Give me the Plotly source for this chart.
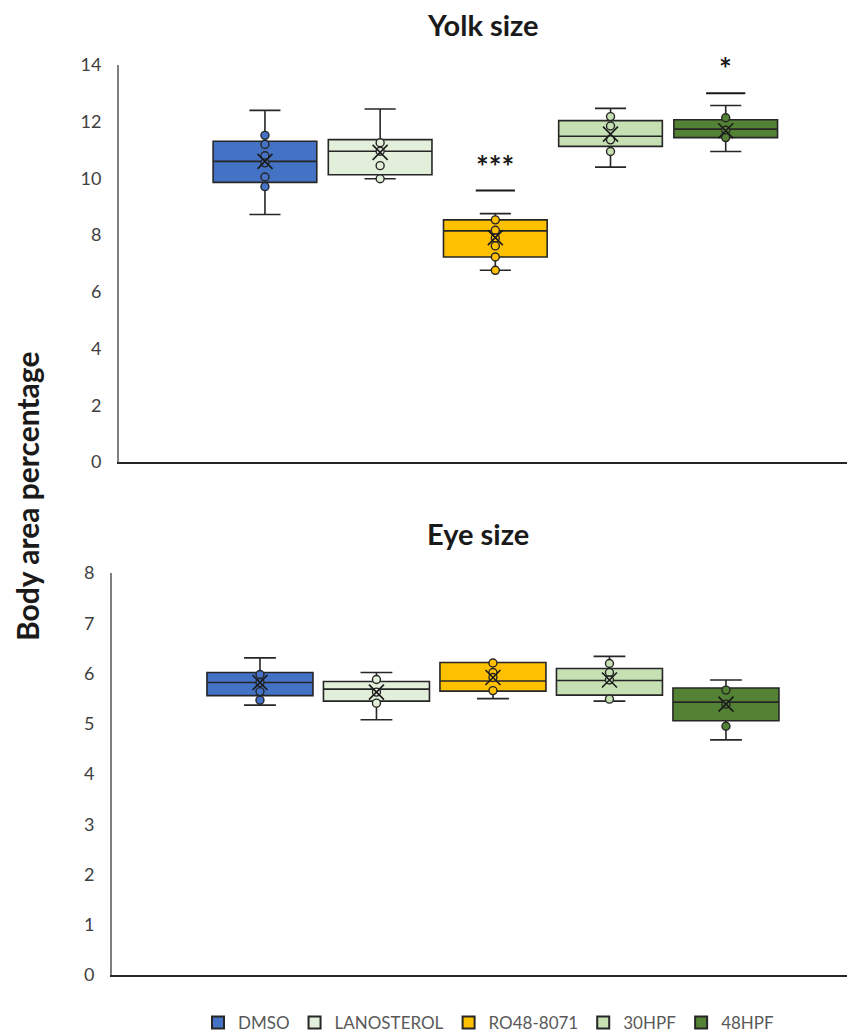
import plotly.graph_objects as go

# Treatment groups and their fill colours
groups = ["DMSO", "LANOSTEROL", "RO48-8071", "30HPF", "48HPF"]
fill_colors = ["#4472C4", "#E2EFDA", "#FFC000", "#C6E0B4", "#548235"]

# Yolk size (% of body area) - box statistics per group
yolk_q1 = [9.86, 10.13, 7.23, 11.13, 11.44]
yolk_median = [10.60, 10.96, 8.15, 11.49, 11.74]
yolk_q3 = [11.31, 11.37, 8.54, 12.04, 12.07]
yolk_lower = [8.73, 9.99, 6.76, 10.40, 10.95]
yolk_upper = [12.40, 12.45, 8.76, 12.47, 12.57]
yolk_mean = [10.60, 10.92, 7.91, 11.56, 11.68]
yolk_points = [
    [11.52, 11.20, 10.80, 10.55, 10.05, 9.71],
    [11.26, 10.96, 10.45, 9.99],
    [8.54, 8.17, 7.90, 7.62, 7.23, 6.76],
    [12.18, 11.85, 11.36, 10.95],
    [12.14, 11.70, 11.44],
]
yolk_sig = ["", "", "***", "", "*"]

# Eye size (% of body area) - box statistics per group
eye_q1 = [5.56, 5.45, 5.65, 5.57, 5.06]
eye_median = [5.82, 5.69, 5.85, 5.86, 5.43]
eye_q3 = [6.02, 5.84, 6.22, 6.10, 5.71]
eye_lower = [5.37, 5.08, 5.50, 5.45, 4.68]
eye_upper = [6.31, 6.02, 6.22, 6.34, 5.87]
eye_mean = [5.82, 5.63, 5.92, 5.87, 5.39]
eye_points = [
    [5.98, 5.82, 5.64, 5.47],
    [5.88, 5.63, 5.41],
    [6.21, 6.02, 5.92, 5.66],
    [6.20, 6.02, 5.87, 5.49],
    [5.67, 5.39, 4.95],
]

FONT = "Lato, Carlito, 'Open Sans', sans-serif"
EDGE = "#262626"
W, H = 847, 1035

fig = go.Figure()


def add_panel(xa, ya, q1, med, q3, lo, hi, mean, pts, box_w):
    for i, g in enumerate(groups):
        pos = i + 1
        fig.add_trace(go.Box(
            x=[pos], q1=[q1[i]], median=[med[i]], q3=[q3[i]],
            lowerfence=[lo[i]], upperfence=[hi[i]],
            width=box_w, whiskerwidth=0.3,
            fillcolor=fill_colors[i],
            line=dict(color=EDGE, width=1.6),
            boxpoints=False, showlegend=False, hoverinfo="skip",
            xaxis=xa, yaxis=ya,
        ))
        fig.add_trace(go.Scatter(
            x=[pos] * len(pts[i]), y=pts[i], mode="markers",
            marker=dict(symbol="circle", size=8, color=fill_colors[i],
                        line=dict(color=EDGE, width=1.4)),
            showlegend=False, hoverinfo="skip", xaxis=xa, yaxis=ya,
        ))
        fig.add_trace(go.Scatter(
            x=[pos], y=[mean[i]], mode="markers",
            marker=dict(symbol="x-thin", size=15,
                        line=dict(color="#1a1a1a", width=1.6)),
            showlegend=False, hoverinfo="skip", xaxis=xa, yaxis=ya,
        ))


add_panel("x", "y", yolk_q1, yolk_median, yolk_q3, yolk_lower, yolk_upper,
          yolk_mean, yolk_points, 0.9)
add_panel("x2", "y2", eye_q1, eye_median, eye_q3, eye_lower, eye_upper,
          eye_mean, eye_points, 0.91)

# Legend swatches
for i, g in enumerate(groups):
    fig.add_trace(go.Scatter(
        x=[None], y=[None], mode="markers", name=g,
        marker=dict(symbol="square", size=15, color=fill_colors[i],
                    line=dict(color=EDGE, width=1.2)),
        xaxis="x2", yaxis="y2",
    ))

# Significance bars on the yolk panel, with the stars set just above them
sig_bar = {2: 9.57, 4: 13.0}
for i, bar_y in sig_bar.items():
    pos = i + 1
    fig.add_shape(type="line", xref="x", yref="y",
                  x0=pos - 0.17, x1=pos + 0.17, y0=bar_y, y1=bar_y,
                  line=dict(color="#1a1a1a", width=2))
    fig.add_annotation(x=pos, y=bar_y, xref="x", yref="y", yshift=25,
                       xanchor="center", yanchor="middle",
                       text=f"<b>{yolk_sig[i]}</b>", showarrow=False,
                       font=dict(family=FONT, size=30, color="#1a1a1a"))

# Panel titles and shared y title
fig.add_annotation(x=483 / W, y=1 - 25 / H, xref="paper", yref="paper",
                   xanchor="center", yanchor="middle",
                   text="<b>Yolk size</b>", showarrow=False,
                   font=dict(family=FONT, size=29, color="#1a1a1a"))
fig.add_annotation(x=478 / W, y=1 - 533 / H, xref="paper", yref="paper",
                   xanchor="center", yanchor="middle",
                   text="<b>Eye size</b>", showarrow=False,
                   font=dict(family=FONT, size=29, color="#1a1a1a"))
fig.add_annotation(x=27 / W, y=1 - 497 / H, xref="paper", yref="paper",
                   xanchor="center", yanchor="middle",
                   text="<b>Body area percentage</b>", showarrow=False,
                   textangle=-90,
                   font=dict(family=FONT, size=30, color="#1a1a1a"))

xcommon = dict(showticklabels=False, showgrid=False, zeroline=False,
               showline=True, linecolor=EDGE, linewidth=2, ticks="",
               automargin=False, fixedrange=True)
ycommon = dict(showgrid=False, zeroline=False, showline=True,
               linecolor="#7f7f7f", linewidth=2, ticks="",
               ticklabelstandoff=12, automargin=False,
               tickfont=dict(family=FONT, size=18, color="#404040"))

fig.update_layout(
    width=W, height=H,
    margin=dict(l=0, r=0, t=0, b=0, autoexpand=False),
    paper_bgcolor="white", plot_bgcolor="white",
    boxmode="overlay",
    font=dict(family=FONT),
    xaxis=dict(domain=[119 / W, 1], range=[-0.267, 6.053], anchor="y",
               **xcommon),
    yaxis=dict(domain=[1 - 462 / H, 1 - 65 / H], range=[0, 14],
               dtick=2, anchor="x", **ycommon),
    xaxis2=dict(domain=[112 / W, 1], range=[-0.270, 6.039], anchor="y2",
                **xcommon),
    yaxis2=dict(domain=[1 - 975 / H, 1 - 573 / H], range=[0, 8],
                dtick=1, anchor="x2", **ycommon),
    legend=dict(orientation="h", x=198 / W, y=1 - 1023 / H,
                xanchor="left", yanchor="middle",
                font=dict(family=FONT, size=17, color="#595959"),
                itemsizing="constant", bgcolor="rgba(0,0,0,0)"),
)

fig.write_html("out.html")
